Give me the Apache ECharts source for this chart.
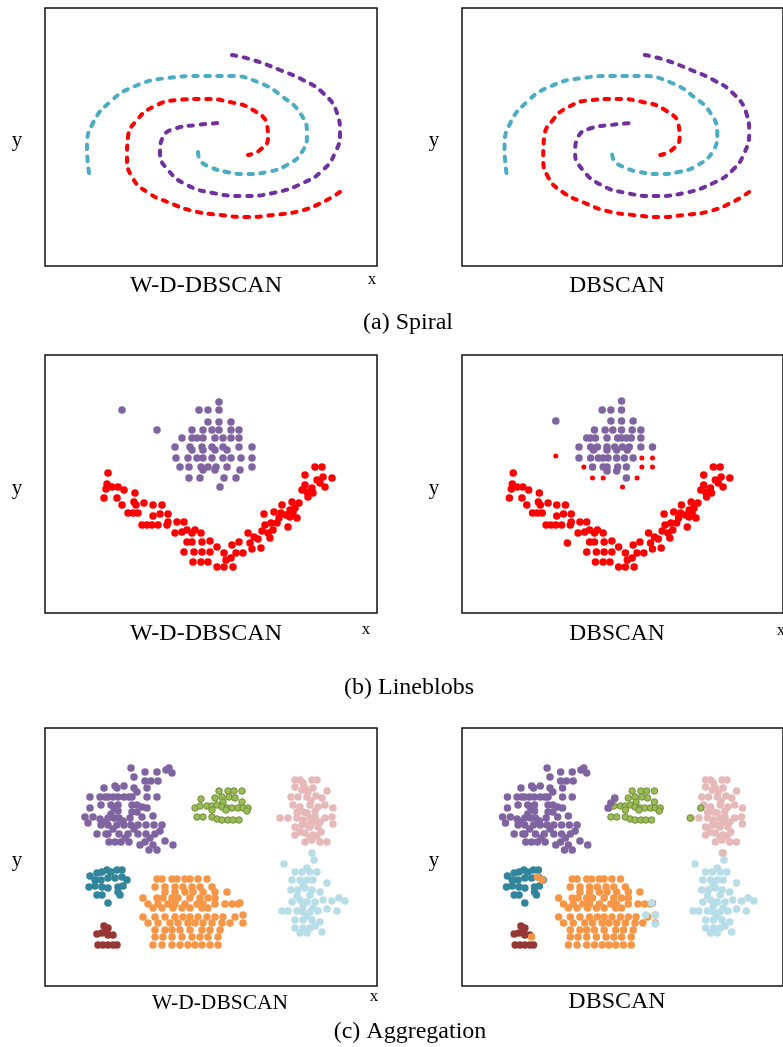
<!DOCTYPE html>
<html>
<head>
<meta charset="utf-8">
<script src="https://cdn.jsdelivr.net/npm/echarts@6/dist/echarts.min.js"></script>
<style>
html, body { margin: 0; padding: 0; background: #fff; }
#chart { width: 783px; height: 1047px; }
</style>
</head>
<body>
<div id="chart"></div>
<script>

// (a) Spiral
const spiralPurple = [[187,47],[208,52],[235,62],[258,72],[278,85],[292,105],[295,125],[290,145],[278,162],[258,175],[228,185],[198,188],[168,185],[142,177],[123,162],[115,145],[118,129],[132,120],[152,117],[173,115]]
const spiralCyan = [[44,165],[42,139],[48,115],[65,94],[88,79],[122,70],[155,68],[185,68],[215,75],[238,89],[255,105],[262,125],[257,144],[242,157],[222,164],[202,166],[182,164],[165,159],[155,152],[153,144]]
const spiralRed = [[295,184],[278,194],[255,203],[228,207],[202,209],[175,207],[148,203],[125,195],[102,184],[87,169],[82,149],[83,129],[92,112],[108,99],[132,92],[158,91],[185,94],[208,102],[222,117],[223,130],[215,142],[203,147]]

// (b) Lineblobs
const lbRed = [
  [63,118],[62,129],[61,134],[59,143],[67,132],[73,132],[72,143],[79,135],[90,138],[77,150],[89,147],[91,150],[99,148],
  [83,158],[88,158],[93,158],[108,150],[117,150],[108,161],[115,159],[123,159],[97,170],[102,170],[107,170],[113,170],
  [123,167],[132,167],[122,170],[139,167],[130,178],[137,177],[142,175],[147,178],[150,175],[156,178],[142,187],[147,187],
  [157,187],[165,186],[139,197],[149,197],[157,197],[165,197],[172,192],[148,207],[156,207],[163,207],[172,212],[179,212],
  [188,212],[179,198],[181,205],[187,190],[191,198],[194,187],[198,198],[203,178],[207,194],[209,182],[213,184],[216,193],
  [219,159],[220,170],[223,178],[225,183],[229,157],[232,168],[234,163],[237,150],[241,160],[243,172],[245,162],[247,147],
  [250,153],[252,163],[257,135],[260,130],[260,120],[263,142],[267,133],[268,138],[270,112],[277,112],[272,125],[278,122],
  [280,132],[287,123],[228,175],[236,158],[245,155],[254,148],[262,137],[275,128],[226,168],[205,188],[186,203],[217,176],[248,158]
]
const lbPurpleWD = [
  [174,47],[77,55],[154,55],[163,55],[174,55],[163,67],[174,67],[186,67],
  [112,75],[147,75],[158,75],[167,75],[174,75],[186,75],[194,75],
  [137,83],[147,83],[152,83],[158,83],[170,83],[178,83],[186,83],[194,83],
  [130,92],[145,92],[157,92],[167,92],[178,92],[194,92],[207,92],[147,95],[158,95],[170,95],[182,95],
  [131,103],[143,103],[152,103],[158,103],[167,103],[178,103],[186,103],[196,103],[207,103],
  [135,112],[144,112],[156,112],[163,112],[171,112],[182,112],[207,112],[158,115],[170,115],[195,115],
  [144,123],[155,123],[179,123],[191,123],[175,132]
]
const lbPurpleDB = [
  [175,46],[155,55],[164,55],[175,55],[107,66],[164,66],[175,66],[187,66],
  [147,75],[158,75],[166,75],[175,75],[186,75],[195,75],
  [139,83],[143,83],[148,83],[160,83],[171,83],[175,83],[180,83],[185,83],[195,83],
  [131,92],[143,92],[150,92],[160,92],[168,92],[176,92],[183,92],[195,92],[207,92],[146,95],[160,95],[170,95],[181,95],
  [131,103],[143,103],[151,103],[156,103],[161,103],[170,103],[178,103],[187,103],
  [145,112],[156,112],[160,112],[171,112],[180,112],[160,116],[170,116],[180,123]
]
const lbRedSmallDB = [[107,101],[136,112],[145,123],[156,123],[176,132],[191,123],[196,103],[207,103],[207,112],[196,112]]
const lbRedExtraDB = [[119,188]]

// (c) Aggregation
const aggPurple = [
  [86,40],[100,44],[112,44],[121,42],[124,40],[127,45],[89,49],[100,53],[106,53],[113,53],
  [59,60],[70,58],[72,60],[79,58],[89,60],[102,60],
  [45,69],[55,69],[63,69],[68,69],[73,69],[79,69],[87,69],[102,69],[112,69],
  [45,80],[56,77],[66,77],[69,80],[73,77],[87,77],[92,77],[97,79],[102,80],[73,83],[87,84],[92,84],
  [40,89],[48,89],[55,91],[63,90],[69,90],[74,90],[85,90],[97,89],
  [43,95],[56,97],[63,97],[72,97],[79,97],[86,97],[93,97],[101,97],[109,97],[117,97],
  [52,106],[61,106],[63,106],[74,106],[83,106],[93,106],[101,106],[110,106],
  [64,114],[70,114],[76,114],[84,114],[95,117],[100,114],[108,117],[120,113],[128,117],[104,122],[112,122],
  [60,69],[84,69],[66,86],[78,93],[58,94],[89,101],[68,101],[80,110],[105,110],[115,103],[92,64],[108,88]
]
const aggGreen = [
  [174,63],[183,63],[189,63],[197,63],[156,71],[170,70],[177,69],[184,69],[197,74],[178,74],[190,70],
  [150,80],[155,78],[162,78],[167,78],[172,77],[177,79],[182,80],[187,80],[193,80],[198,80],[203,80],
  [167,82],[181,82],[202,83],[152,89],[158,89],[167,89],[172,91],[177,92],[183,92],[188,92],[194,92]
]
const aggPink = [
  [250,52],[255,52],[267,52],[272,52],[250,59],[260,60],[268,60],[282,63],
  [246,69],[253,69],[262,69],[271,68],[277,70],[248,77],[255,79],[265,77],[273,79],[280,77],[288,80],
  [235,90],[243,90],[252,90],[258,92],[265,90],[270,89],[280,90],[287,89],
  [250,99],[257,97],[265,99],[273,99],[288,96],[250,107],[260,105],[268,107],[276,104],
  [260,114],[267,112],[275,114],[282,114],
  [258,55],[263,64],[257,62],[266,73],[258,84],[270,83],[262,85],[252,84],[275,94],[262,97],[268,94],[255,104],[265,109],[272,108]
]
const aggBlue = [
  [267,125],[269,132],[239,136],[250,144],[257,144],[265,144],[272,144],
  [247,152],[255,152],[262,152],[268,152],[282,155],[246,162],[253,162],[260,160],[267,162],[275,164],
  [247,174],[255,172],[262,174],[270,174],[278,172],[287,173],[294,170],[300,173],
  [237,183],[243,183],[252,183],[258,184],[265,184],[273,183],[282,181],[292,183],
  [250,192],[258,192],[267,192],[275,194],[250,200],[258,200],[265,200],[277,204],[255,205],[262,205],
  [262,140],[258,157],[265,167],[258,178],[268,180],[262,188],[270,198],[252,168]
]
const aggOrange = [
  [112,151],[117,151],[127,151],[132,151],[140,151],[145,151],[153,151],[162,151],
  [110,159],[120,159],[130,159],[138,159],[147,159],[155,159],[167,159],
  [120,164],[130,164],[140,164],[148,164],[158,164],[170,164],[182,164],
  [98,170],[112,170],[118,170],[127,170],[133,170],[145,170],[155,170],[163,170],[170,170],
  [103,176],[113,176],[123,176],[130,176],[140,176],[152,176],[158,176],[170,176],[180,176],[187,176],[193,176],[195,175],
  [108,180],[117,180],[128,180],[137,180],[145,180],[157,180],[163,180],
  [98,189],[110,189],[120,189],[130,189],[138,189],[145,189],[153,189],[162,189],[170,189],[178,189],[190,189],[198,187],
  [103,195],[113,195],[125,195],[133,195],[143,195],[150,195],[158,195],[167,195],[177,195],[185,195],[198,195],
  [110,202],[120,202],[127,202],[135,202],[145,202],[157,202],[165,202],[175,202],
  [110,209],[118,209],[127,209],[137,209],[147,209],[155,209],[163,209],[173,209],
  [108,217],[117,217],[127,217],[135,217],[143,217],[150,217],[157,217],[165,217],[173,217]
]
const aggTeal = [
  [45,148],[52,145],[57,144],[62,142],[66,144],[72,142],[77,142],[82,152],[77,149],[70,150],[63,150],[56,152],[50,152],
  [44,159],[50,158],[57,159],[63,160],[73,159],[78,158],[52,167],[57,167],[73,164],[75,167],[63,175]
]
const aggBrown = [[59,198],[63,200],[62,202],[57,205],[52,206],[63,207],[68,207],[53,217],[58,217],[63,217],[68,217],[72,217]]

// DBSCAN relabelled points (c)
const dbPurpleInGreen = [[149,80],[152,75],[156,70]]
const dbGreenInPink = [[245,80],[234,90]]
const dbPinkInBlue = [[268,125]]
const dbOrangeInTeal = [[76,149],[81,152]]
const dbOrangeInBrown = [[70,209]]
const dbBlueInOrange = [[194,175],[188,187],[198,187],[198,196]]

const panels = [
  { left: 45, top: 8, xMin: 0 },
  { left: 462, top: 8, xMin: -2 },
  { left: 45, top: 355, xMin: 0 },
  { left: 462, top: 355, xMin: 10 },
  { left: 45, top: 728, xMin: 0 },
  { left: 462, top: 728, xMin: -2 }
]

const serif = '"Liberation Serif", "Times New Roman", serif'

function spiral (gi, data, color) {
  return {
    type: 'line', xAxisIndex: gi, yAxisIndex: gi, data: data,
    smooth: 0.5, showSymbol: false, silent: true,
    lineStyle: { color: color, width: 4, type: [4.5, 7.5], cap: 'round' }
  }
}

function dots (gi, data, color, size, extra) {
  const s = {
    type: 'scatter', xAxisIndex: gi, yAxisIndex: gi, data: data,
    symbolSize: size, silent: true,
    itemStyle: { color: color, opacity: 1 }
  }
  return Object.assign(s, extra || {})
}

const green = { itemStyle: { color: '#9bbb59', borderColor: '#6f8f35', borderWidth: 1, opacity: 1 } }

function label (text, x, y, size) {
  return {
    type: 'text', x: x, y: y,
    style: {
      text: text, font: size + 'px ' + serif, fill: '#000',
      textAlign: 'center', textVerticalAlign: 'middle', align: 'center', verticalAlign: 'middle'
    }
  }
}

const chart = echarts.init(document.getElementById('chart'), null, { renderer: 'canvas' })
chart.setOption({
  animation: false,
  backgroundColor: '#fff',
  grid: panels.map(p => ({
    left: p.left, top: p.top, width: 332, height: 258,
    show: true, borderColor: '#111', borderWidth: 1.5, backgroundColor: '#fff'
  })),
  xAxis: panels.map((p, i) => ({ gridIndex: i, type: 'value', min: p.xMin, max: p.xMin + 332, show: false })),
  yAxis: panels.map((p, i) => ({ gridIndex: i, type: 'value', min: 0, max: 258, inverse: true, show: false })),
  series: [
    spiral(0, spiralCyan, '#4bacc6'), spiral(0, spiralRed, '#ff0000'), spiral(0, spiralPurple, '#7030a0'),
    spiral(1, spiralCyan, '#4bacc6'), spiral(1, spiralRed, '#ff0000'), spiral(1, spiralPurple, '#7030a0'),

    dots(2, lbPurpleWD, '#8064a2', 7.5), dots(2, lbRed, '#ff0000', 7.5),
    dots(3, lbPurpleDB, '#8064a2', 7.5), dots(3, lbRed, '#ff0000', 7.5),
    dots(3, lbRedExtraDB, '#ff0000', 7.5), dots(3, lbRedSmallDB, '#ff0000', 5),

    dots(4, aggPurple, '#8064a2', 7.5), dots(4, aggGreen, null, 6.5, green), dots(4, aggPink, '#e6b9b8', 7.5),
    dots(4, aggBlue, '#b7dee8', 7.5), dots(4, aggOrange, '#f79646', 7.5), dots(4, aggTeal, '#31859c', 7.5),
    dots(4, aggBrown, '#953735', 7.5),

    dots(5, aggPurple, '#8064a2', 7.5), dots(5, aggGreen, null, 6.5, green), dots(5, aggPink, '#e6b9b8', 7.5),
    dots(5, aggBlue, '#b7dee8', 7.5), dots(5, aggOrange, '#f79646', 7.5), dots(5, aggTeal, '#31859c', 7.5),
    dots(5, aggBrown, '#953735', 7.5),
    dots(5, dbPurpleInGreen, '#8064a2', 7.5), dots(5, dbGreenInPink, null, 6.5, green),
    dots(5, dbPinkInBlue, '#e6b9b8', 7.5), dots(5, dbOrangeInTeal, '#f79646', 7.5),
    dots(5, dbOrangeInBrown, '#f79646', 7.5), dots(5, dbBlueInOrange, '#b7dee8', 7.5)
  ],
  graphic: [
    label('y', 17, 140, 21), label('W-D-DBSCAN', 206, 286, 24), label('x', 372, 280, 17),
    label('y', 434, 140, 21), label('DBSCAN', 617, 286, 23.5), label('x', 789, 280, 17),
    label('(a) Spiral', 408, 323, 24),
    label('y', 17, 488, 21), label('W-D-DBSCAN', 206, 634, 24), label('x', 366, 630, 17),
    label('y', 434, 488, 21), label('DBSCAN', 617, 634, 23.5), label('x', 781, 631, 17),
    label('(b) Lineblobs', 409, 688, 24),
    label('y', 17, 860, 21), label('W-D-DBSCAN', 220, 1003, 21.5), label('x', 374, 997, 17),
    label('y', 434, 860, 21), label('DBSCAN', 617, 1002, 24),
    label('(c) Aggregation', 410, 1032, 24)
  ]
})
</script>
</body>
</html>
